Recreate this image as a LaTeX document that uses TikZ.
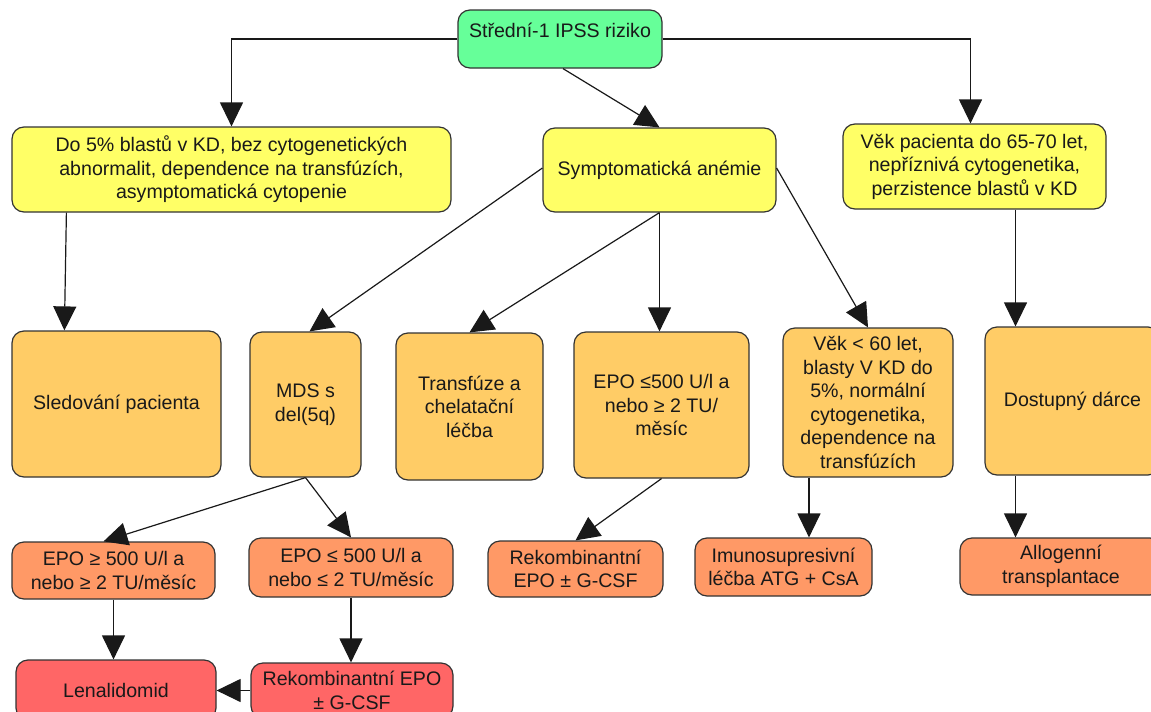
\documentclass[tikz,border=0pt]{standalone}
\usepackage{fontspec}
\setmainfont{Liberation Sans}
\usetikzlibrary{arrows.meta}
\definecolor{cgreen}{HTML}{66FF99}
\definecolor{cyellow}{HTML}{FFFF66}
\definecolor{corange}{HTML}{FFCC66}
\definecolor{csalmon}{HTML}{FF9966}
\definecolor{cred}{HTML}{FF6666}
\definecolor{cborder}{HTML}{333333}
\tikzset{
  box/.style={draw=cborder, line width=1.2pt, rounded corners=12pt, inner sep=0pt},
  txt/.style={align=center, font=\fontsize{19.6}{23.5}\selectfont, text=black!90, inner sep=0pt},
  arr/.style={draw=black!90, line width=1.2pt, -{Triangle[length=24pt,width=23pt]}},
}
\newcommand{\boxnode}[7]{% name, fill, cx, cy, w, h, text
  \node[box, fill=#2, minimum width=#5pt, minimum height=#6pt] (#1) at (#3,#4) {};
  \node[txt] (#1-t) at (#1) {#7};
}
\begin{document}
\begin{tikzpicture}[x={(1pt,0pt)}, y={(0pt,-1pt)}]
\useasboundingbox (0,0) rectangle (1151,712);
\clip (0,0) rectangle (1151,712);

% top level
\node[box, fill=cgreen, minimum width=204pt, minimum height=58pt] (top) at (560,39) {};
\node[txt] (top-t) at (560,30) {Střední-1 IPSS riziko};

% second level
\boxnode{ylL}{cyellow}{231.5}{169.5}{439}{85}{Do 5\% blastů v KD, bez cytogenetických\\abnormalit, dependence na transfúzích,\\asymptomatická cytopenie}
\boxnode{ylM}{cyellow}{659.5}{170}{233}{84}{Symptomatická anémie}
\boxnode{ylR}{cyellow}{974.5}{166.5}{263}{85}{Věk pacienta do 65-70 let,\\nepříznivá cytogenetika,\\perzistence blastů v KD}

% third level
\boxnode{sled}{corange}{116.5}{404}{209}{146}{Sledování pacienta}
\boxnode{mds}{corange}{305.5}{404.5}{111}{145}{MDS s\\del(5q)}
\boxnode{trans}{corange}{469.5}{406.5}{147}{147}{Transfúze a\\chelatační\\léčba}
\boxnode{epo2}{corange}{661.5}{405}{175}{146}{EPO ≤500 U/l a\\nebo ≥ 2 TU/\\měsíc}
\boxnode{vek}{corange}{868}{402.5}{170}{149}{Věk < 60 let,\\blasty V KD do\\5\%, normální\\cytogenetika,\\dependence na\\transfúzích}
\boxnode{dost}{corange}{1072.5}{401}{175}{148}{Dostupný dárce}

% fourth level
\boxnode{epoA}{csalmon}{113.5}{570.5}{203}{57}{EPO ≥ 500 U/l a\\nebo ≥ 2 TU/měsíc}
\boxnode{epoB}{csalmon}{351}{567.5}{204}{59}{EPO ≤ 500 U/l a\\nebo ≤ 2 TU/měsíc}
\boxnode{rek}{csalmon}{575.5}{569}{175}{56}{Rekombinantní\\EPO ± G-CSF}
\boxnode{imu}{csalmon}{783.5}{567}{177}{58}{Imunosupresivní\\léčba ATG + CsA}
\boxnode{allo}{csalmon}{1061}{566.5}{202}{57}{Allogenní\\transplantace}

% fifth level
\boxnode{len}{cred}{116}{690}{200}{60}{Lenalidomid}
\boxnode{rek2}{cred}{352}{690.5}{202}{55}{Rekombinantní EPO\\± G-CSF}

% helper coordinates for vertical connectors
\coordinate (cL1) at ([xshift=55pt]ylL.south west);
\coordinate (cL2) at ([xshift=53pt]sled.north west);
\coordinate (cR) at ([xshift=-57pt]dost.north);
\coordinate (cV) at ([xshift=-59pt]vek.south);

% connectors
\draw[arr] (top.west) -| (ylL.north);
\draw[arr] (top.east) -| ([xshift=-4pt]ylR.north);
\draw[arr] ([xshift=3pt]top.south) -- (ylM.north);

\draw[arr] (cL1) -- (cL2);
\draw[arr] ([yshift=2pt]ylM.west) -- ([xshift=4pt]mds.north);
\draw[arr] (ylM.south) -- (trans.north);
\draw[arr] (ylM.south) -- (ylM.south |- epo2.north);
\draw[arr] ([yshift=2pt]ylM.east) -- (vek.north);
\draw[arr] (cR |- ylR.south) -- (cR);

\draw[arr] (mds.south) -- ([xshift=-10pt]epoA.north);
\draw[arr] (mds.south) -- (epoB.north);
\draw[arr] (epo2.south) -- (rek.north);
\draw[arr] (cV) -- (cV |- imu.north);
\draw[arr] (cR |- dost.south) -- (cR |- allo.north);

\draw[arr] (epoA.south) -- (epoA.south |- len.north);
\draw[arr] (epoB.south) -- (epoB.south |- rek2.north);
\draw[arr] (rek2.west) -- (rek2.west -| len.east);
\end{tikzpicture}
\end{document}
